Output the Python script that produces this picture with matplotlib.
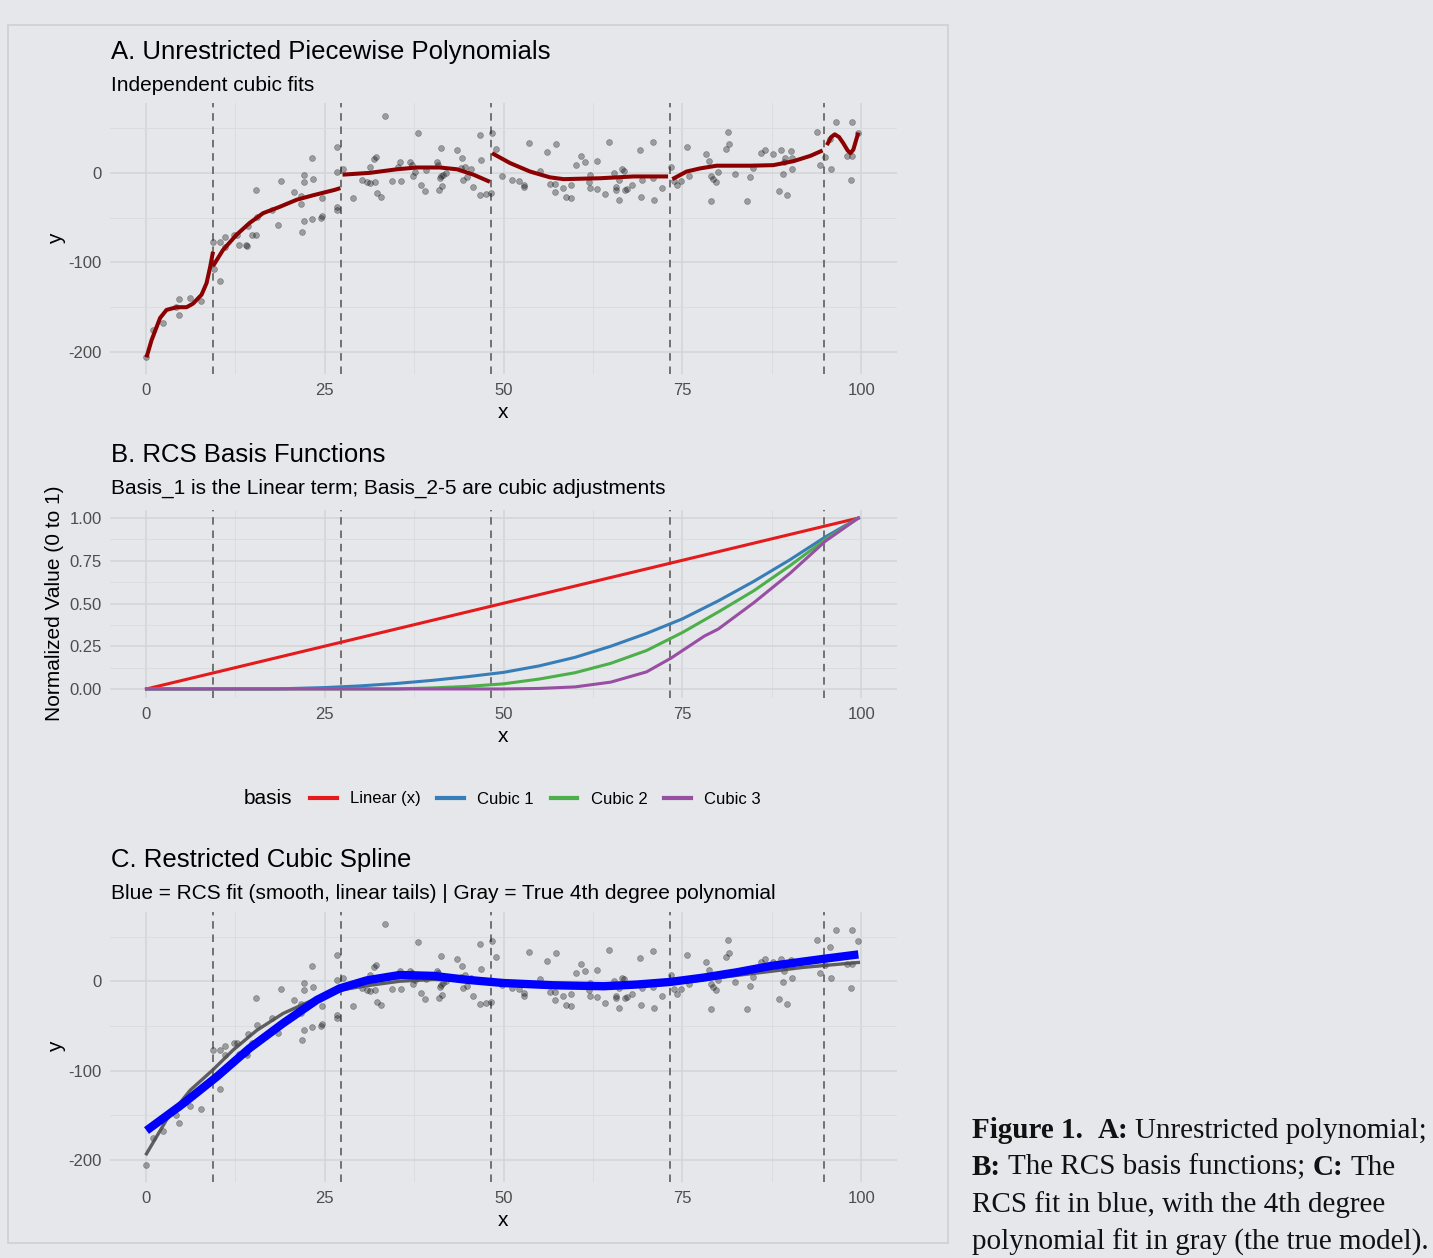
import matplotlib
matplotlib.use("Agg")
import matplotlib.pyplot as plt
from matplotlib.lines import Line2D
from matplotlib.patches import Rectangle

W, H = 1433, 1258
BG = '#e5e7ea'
plt.rcParams['font.family'] = ['Liberation Sans', 'DejaVu Sans']

# knot locations (dashed lines)
knots = [9.4, 27.3, 48.3, 73.3, 94.8]

# observed points (same data in A and C)
pts_x = [0.1, 1.0, 2.4, 4.2, 4.7, 4.7, 6.2, 7.7, 9.4, 9.5, 10.4, 10.4, 11.1, 11.1, 12.3, 12.7,
         13.1, 14.0, 14.2, 14.3, 14.8, 15.4, 15.5, 15.4, 17.6, 18.5, 18.9, 20.7, 21.7, 21.7,
         21.9, 22.1, 22.1, 22.1, 23.3, 23.3, 23.4, 24.5, 24.7, 24.7, 26.7, 26.7, 26.7, 26.7,
         27.5, 29.0, 30.2, 30.9, 31.3, 32.0, 31.3, 31.9, 32.2, 32.3, 32.9, 33.4, 34.4, 35.3,
         35.5, 35.7, 36.9,
         38.1, 37.2, 37.4, 37.6, 38.5, 39.0, 39.2, 40.7, 40.8, 41.2, 41.1, 41.3, 41.6, 41.9,
         41.4, 41.0, 43.5, 44.2, 44.0, 44.3, 44.6, 44.9, 45.4, 45.7, 46.7, 46.8, 46.7, 47.6,
         48.2, 48.4, 49.0, 49.8, 51.2, 52.2, 52.9, 52.9, 53.5, 55.1, 56.1, 56.5, 57.2, 57.2,
         57.4, 58.3, 58.7, 59.5, 59.5, 60.1, 60.9, 61.4, 62.1, 62.0, 62.1, 63.0, 63.0, 64.2,
         64.8,
         65.5, 65.7, 65.7, 66.1, 66.2, 66.5, 66.9, 67.0, 67.2, 67.9, 69.1, 69.2, 69.4, 70.9,
         70.9, 71.1, 72.2, 73.4, 73.8, 74.2, 74.8, 75.6, 75.9, 78.3, 78.7, 79.0, 79.0, 79.3,
         79.7, 80.0, 81.1, 81.5, 81.4, 82.3, 84.1, 84.4, 84.9, 86.0, 86.5, 87.6, 88.5, 88.8,
         89.0, 89.2, 89.4, 89.6, 90.2, 90.3, 90.3, 93.8, 94.3, 95.0, 95.6, 95.8, 96.5, 98.0,
         98.7, 98.7, 98.6, 99.6]
pts_y = [-206, -175, -168, -150, -141, -159, -140, -143, -77, -107, -77, -121, -72, -83, -69, -69,
         -81, -80, -82, -59, -69, -69, -49, -19, -41, -58, -9, -21, -26, -35,
         -66, -54, -10, -2, 17, -51, -7, -50, -48, -28, 29, 1, -38, -41,
         4, -28, -8, -10, -11, -10, 7, 16, 18, -23, -27, 64, -9, 6,
         12, -9, 12,
         44, 9, -3, 1, -13, -20, 3, 12, 9, 28, -6, -4, -2, 0,
         -15, -19, 25, 17, 5, -8, 7, -5, 4, -16, 42, 14, -25, -24,
         -23, 45, 27, -4, -8, -9, -13, -16, 33, 2, 23, -12, -12, -21,
         32, -17, -27, -14, -28, 9, 19, 12, -2, -10, -17, 13, -18, -24,
         35,
         0, -16, -19, -30, -8, 4, 2, -19, -18, -14, 26, -27, -8, 34,
         -6, -30, -17, 7, -9, -14, -9, 29, -3, 21, 13, -3, -31, -7,
         -10, 1, 27, 32, 46, -1, -31, -5, 5, 22, 25, 21, -20, 25,
         -1, 12, 17, -25, 24, 17, 4, 46, 9, 18, 38, 4, 57, 19,
         57, 19, -8, 45]

# panel A: independent cubic fit per segment
seg_x = [[0.1, 0.8, 2.0, 2.9, 4.3, 5.7, 6.6, 7.8, 8.5, 9.0, 9.4],
         [9.4, 10.8, 12.7, 14.5, 16.4, 18.7, 21.1, 23.4, 26.4, 27.2],
         [27.5, 31.3, 35.1, 37.9, 41.1, 43.5, 45.8, 48.1],
         [48.4, 50.9, 53.7, 56.5, 58.4, 63.5, 68.2, 73.0],
         [73.6, 75.6, 77.5, 79.8, 84.5, 87.7, 90.5, 92.9, 94.6],
         [95.2, 95.8, 96.3, 96.9, 97.5, 98.1, 98.5, 98.9, 99.3, 99.6]]
seg_y = [[-206, -187, -162, -153, -150, -150, -146, -136, -123, -105, -88],
         [-104, -86, -69, -56, -45, -38, -30, -25, -19, -17],
         [-2, 0, 4, 6, 6, 4, -2, -10],
         [22, 11, 1.5, -5, -7, -6, -4, -4],
         [-7, 1.5, 5, 8, 8, 8.6, 13, 19, 25],
         [31, 40, 43, 40, 33, 25, 22, 26, 37, 45]]

# panel B: normalized basis functions
basis_names = ['Linear (x)', 'Cubic 1', 'Cubic 2', 'Cubic 3']
basis_colors = ['#e41a1c', '#377eb8', '#4daf4a', '#984ea3']
lin_x = [0.1, 99.6]
lin_y = [0.0, 1.0]
c1_x = [0.1, 18, 25, 30, 35, 40, 45, 50, 55, 60, 65, 70, 75, 80, 85, 90, 95, 99.6]
c1_y = [0, 0, 0.008, 0.018, 0.032, 0.05, 0.072, 0.097, 0.135, 0.185, 0.25, 0.325, 0.41,
        0.515, 0.63, 0.755, 0.89, 1.0]
c2_x = [0.1, 35, 40, 45, 50, 55, 60, 65, 70, 75, 80, 85, 90, 95, 99.6]
c2_y = [0, 0, 0.006, 0.015, 0.03, 0.058, 0.095, 0.15, 0.225, 0.33, 0.45, 0.575, 0.72, 0.875, 1.0]
c3_x = [0.1, 50, 55, 60, 65, 70, 73.4, 78.1, 80, 85, 90, 95, 99.6]
c3_y = [0, 0, 0.003, 0.012, 0.04, 0.1, 0.18, 0.31, 0.35, 0.505, 0.675, 0.865, 1.0]
basis_x = [lin_x, c1_x, c2_x, c3_x]
basis_y = [lin_y, c1_y, c2_y, c3_y]

# panel C: RCS fit and true 4th degree polynomial
rcs_x = [0.1, 5.2, 9.9, 14.5, 19.2, 23.9, 27.1, 30.9, 35.5, 40.2, 45.0, 50.0, 57.0, 64.0,
         68.6, 73.3, 77.9, 82.6, 87.3, 91.9, 94.7, 99.6]
rcs_y = [-167, -137, -107, -75, -47, -21, -8, 1, 7, 6, 1.5, -2, -4.5, -5.6,
         -3.7, -0.8, 4, 10, 17, 22, 25, 30]
true_x = [0.1, 2.9, 6.2, 9.4, 12.2, 15.5, 19.2, 23.9, 27.1, 30.9, 35.5, 40.2, 45.0, 50.0,
          57.0, 64.0, 68.6, 73.3, 77.9, 82.6, 87.3, 91.9, 99.6]
true_y = [-193, -155, -122, -99, -77, -55, -36, -19, -10, -5, 0, 2, 0.5, -2.5,
          -5.5, -6.5, -5, -2.5, 1.5, 6.5, 11, 15.5, 21]


def fx(px):
    return px / W


def fy(py):
    return 1 - py / H


fig = plt.figure(figsize=(W / 100, H / 100), dpi=100)
fig.patch.set_facecolor(BG)
fig.patches.append(Rectangle((fx(8), fy(1243)), fx(940), (1218) / H, transform=fig.transFigure,
                             facecolor='none', edgecolor='#cfd2d5', lw=1.3, zorder=-1))


def panel(top, bot, ylim, yticks, yticklabels, yminor):
    ax = fig.add_axes([fx(110), fy(bot), fx(787), (bot - top) / H])
    ax.set_facecolor('none')
    for s in ax.spines.values():
        s.set_visible(False)
    ax.set_xlim(-5, 105)
    ax.set_ylim(*ylim)
    ax.set_xticks([0, 25, 50, 75, 100])
    ax.set_xticks([12.5, 37.5, 62.5, 87.5], minor=True)
    ax.set_yticks(yticks)
    ax.set_yticklabels(yticklabels)
    ax.set_yticks(yminor, minor=True)
    ax.grid(which='major', color='#d2d4d7', lw=1.1)
    ax.grid(which='minor', color='#dadcdf', lw=0.7)
    ax.set_axisbelow(True)
    ax.tick_params(which='both', length=0)
    ax.tick_params(axis='x', pad=6.5, labelsize=12, labelcolor='#4d4d4d')
    ax.tick_params(axis='y', pad=6, labelsize=12, labelcolor='#4d4d4d')
    for k in knots:
        ax.axvline(k, color='#5e5e5e', ls=(0, (4.5, 3.5)), lw=1.2, zorder=1)
    ax.set_xlabel('x', fontsize=15, labelpad=4)
    return ax


def titles(py_t, py_s, title, sub):
    fig.text(fx(111), fy(py_t), title, fontsize=18.5, va='baseline', ha='left')
    fig.text(fx(111), fy(py_s), sub, fontsize=15, va='baseline', ha='left')


# ---- A
axA = panel(103, 373.5, (-224, 78), [0, -100, -200], ['0', '-100', '-200'], [50, -50, -150])
axA.scatter(pts_x, pts_y, s=18, color='black', alpha=0.32, lw=0.5, zorder=2)
for sx, sy in zip(seg_x, seg_y):
    axA.plot(sx, sy, color='#8b0000', lw=2.9, zorder=3, solid_capstyle='butt')
axA.set_ylabel('y', fontsize=15, labelpad=1.5)
titles(58.5, 91, 'A. Unrestricted Piecewise Polynomials', 'Independent cubic fits')

# ---- B
axB = panel(509.5, 697.5, (-0.05, 1.05), [0, 0.25, 0.5, 0.75, 1.0],
            ['0.00', '0.25', '0.50', '0.75', '1.00'], [0.125, 0.375, 0.625, 0.875])
handles = []
for bx, by, name, col in zip(basis_x, basis_y, basis_names, basis_colors):
    axB.plot(bx, by, color=col, lw=2.2, zorder=3)
    handles.append(Line2D([], [], color=col, lw=3))
axB.set_ylabel('Normalized Value (0 to 1)', fontsize=15, labelpad=4)
titles(461.5, 494, 'B. RCS Basis Functions', 'Basis_1 is the Linear term; Basis_2-5 are cubic adjustments')
fig.text(fx(244), fy(799), 'basis', fontsize=15, va='center', ha='left')
fig.legend(handles, basis_names, loc='center left', bbox_to_anchor=(fx(310), fy(799)),
           ncol=4, frameon=False, fontsize=12, handlelength=1.6, handletextpad=0.8,
           columnspacing=1.0, borderpad=0, borderaxespad=0)

# ---- C
axC = panel(911.5, 1181.5, (-224, 78), [0, -100, -200], ['0', '-100', '-200'], [50, -50, -150])
axC.scatter(pts_x, pts_y, s=18, color='black', alpha=0.32, lw=0.5, zorder=2)
axC.plot(true_x, true_y, color='#4f4f4f', lw=2.4, alpha=0.9, zorder=3)
axC.plot(rcs_x, rcs_y, color='#0000ff', lw=6, zorder=4, solid_capstyle='butt')
axC.set_ylabel('y', fontsize=15, labelpad=1.5)
titles(866.5, 899, 'C. Restricted Cubic Spline',
       'Blue = RCS fit (smooth, linear tails) | Gray = True 4th degree polynomial')

# ---- caption
renderer = fig.canvas.get_renderer()
cap_kw = dict(fontsize=21, family='Liberation Serif', va='baseline', ha='left', color='#111111')


def width(s, weight):
    t = fig.text(0, 0, s, weight=weight, **cap_kw)
    w = t.get_window_extent(renderer).width
    t.remove()
    return w


space = width('x x', 'normal') - width('xx', 'normal')
caption = [
    [('Figure 1.', 'bold', 2), ('A:', 'bold', 1), ('Unrestricted polynomial;', 'normal', 0)],
    [('B:', 'bold', 1), ('The RCS basis functions;', 'normal', 1), ('C:', 'bold', 1), ('The', 'normal', 0)],
    [('RCS fit in blue, with the 4th degree', 'normal', 0)],
    [('polynomial fit in gray (the true model).', 'normal', 0)],
]
for i, line in enumerate(caption):
    px = 972
    py = 1137.7 + 37.3 * i
    for s, wt, nsp in line:
        fig.text(fx(px), fy(py), s, weight=wt, **cap_kw)
        px += width(s, wt) + nsp * space

fig.savefig('out.png', dpi=100, facecolor=BG)
